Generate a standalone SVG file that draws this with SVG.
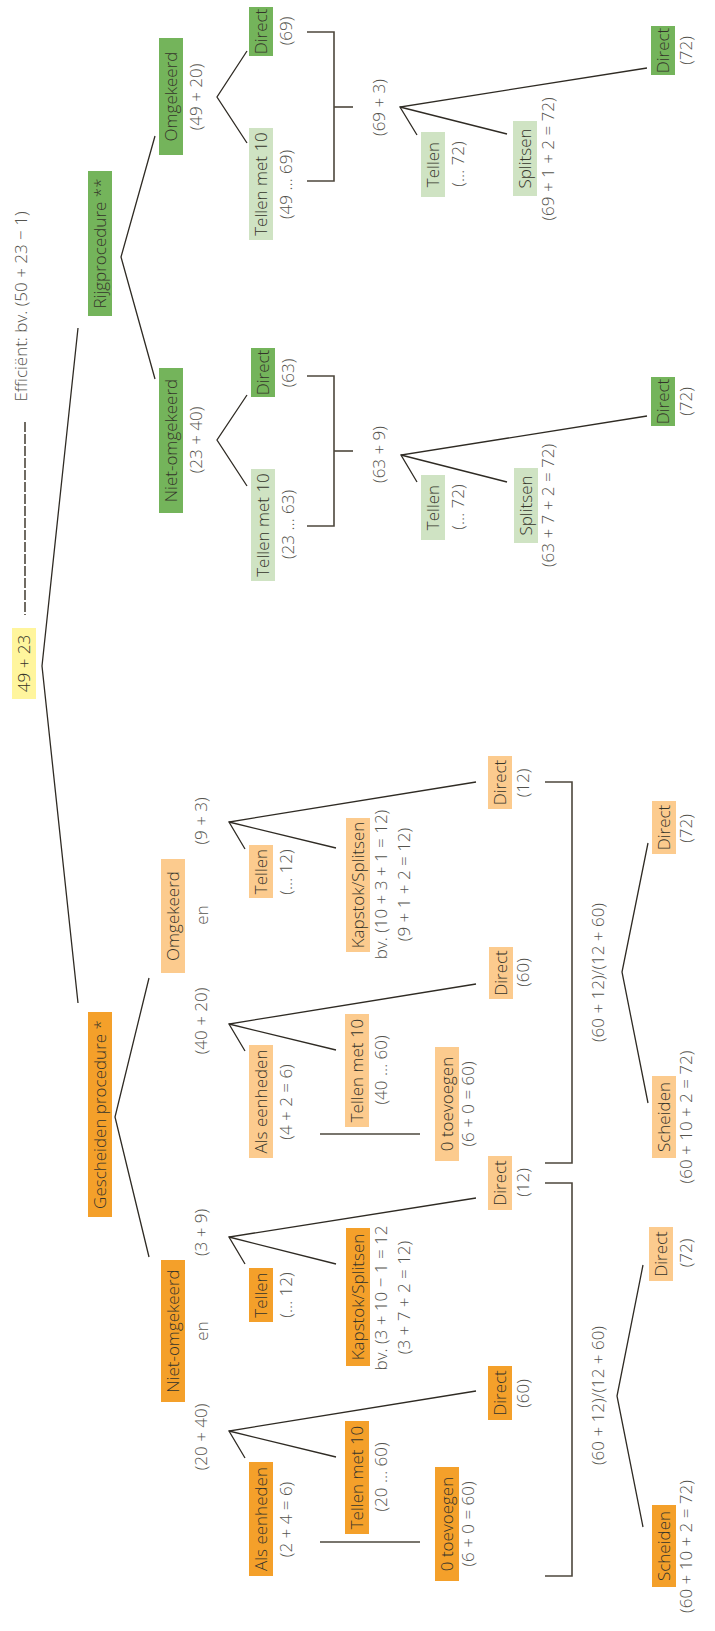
<svg xmlns="http://www.w3.org/2000/svg" width="715" height="1631" viewBox="0 0 715 1631">
<style>
text{font-family:"Open Sans","Noto Sans","Liberation Sans",sans-serif;font-size:17px;font-weight:300;text-anchor:middle}
.t{fill:#34342a}
.l{fill:#55544e}
.dg{fill:#74b45b}
.lg{fill:#cfe3c3}
.do{fill:#f4a02a}
.lo{fill:#fccb8e}
.ye{fill:#fff59d}
.c{fill:none;stroke:#2f2b24;stroke-width:1.3}
.b{fill:none;stroke:#4d473c;stroke-width:1.6}
</style>
<rect width="715" height="1631" fill="#fff"/>
<g id="connectors">
<line class="b" x1="25" y1="422" x2="25" y2="615" stroke-dasharray="10 2"/>
<polyline class="c" points="78,328 42,666 78,1003"/>
<polyline class="c" points="155,136 121,257 155,379"/>
<polyline class="c" points="247,51 217,97 247,143"/>
<polyline class="c" points="247,395 217,440 247,486"/>
<polyline class="b" points="307,32 334,32 334,181 307,181"/>
<line class="b" x1="334" y1="107" x2="353" y2="107"/>
<polyline class="b" points="307,376 334,376 334,526 307,526"/>
<line class="b" x1="334" y1="451" x2="353" y2="451"/>
<polyline class="c" points="647,68 400,107 417,135"/>
<line class="c" x1="400" y1="107" x2="507" y2="134"/>
<polyline class="c" points="647,416 401,455 417,482"/>
<line class="c" x1="401" y1="455" x2="507" y2="482"/>
<polyline class="c" points="149,978 115,1117 149,1257"/>
<polyline class="c" points="476,782 229,822 245,849"/>
<line class="c" x1="229" y1="822" x2="336" y2="848"/>
<polyline class="c" points="476,984 229,1024 245,1051"/>
<line class="c" x1="229" y1="1024" x2="336" y2="1050"/>
<polyline class="c" points="476,1198 229,1237 245,1264"/>
<line class="c" x1="229" y1="1237" x2="336" y2="1264"/>
<polyline class="c" points="476,1391 229,1431 245,1458"/>
<line class="c" x1="229" y1="1431" x2="336" y2="1457"/>
<line class="b" x1="320" y1="1134" x2="420" y2="1134"/>
<line class="b" x1="320" y1="1542" x2="420" y2="1542"/>
<polyline class="b" points="545,782 572,782 572,1163 545,1163"/>
<polyline class="b" points="545,1183 572,1183 572,1576 545,1576"/>
<polyline class="c" points="648,843 622,972 648,1103"/>
<polyline class="c" points="643,1265 617,1396 643,1527"/>
</g>
<g id="n-root"><rect class="ye" x="12" y="628" width="24" height="71"/><text class="t" x="30" y="663.5" transform="rotate(-90 30 663.5)">49 + 23</text></g>
<g id="n-efficient"><text class="l" x="27" y="306.5" transform="rotate(-90 27 306.5)">Efficiënt: bv. (50 + 23 − 1)</text></g>
<g id="n-rijg"><rect class="dg" x="88" y="171" width="24" height="145"/><text class="t" x="106" y="243.5" transform="rotate(-90 106 243.5)">Rijgprocedure **</text></g>
<g id="n-g-omg"><rect class="dg" x="159" y="38" width="24" height="117"/><text class="t" x="177" y="96.5" transform="rotate(-90 177 96.5)">Omgekeerd</text><text class="l" x="202" y="97" transform="rotate(-90 202 97)">(49 + 20)</text></g>
<g id="n-g-niet"><rect class="dg" x="159" y="368" width="24" height="145"/><text class="t" x="177" y="440.5" transform="rotate(-90 177 440.5)">Niet-omgekeerd</text><text class="l" x="202" y="440" transform="rotate(-90 202 440)">(23 + 40)</text></g>
<g id="n-g-direct69"><rect class="dg" x="249" y="7" width="24" height="49"/><text class="t" x="267" y="31.5" transform="rotate(-90 267 31.5)">Direct</text><text class="l" x="292" y="31" transform="rotate(-90 292 31)">(69)</text></g>
<g id="n-g-tellen49"><rect class="lg" x="249" y="128" width="24" height="112"/><text class="t" x="267" y="184" transform="rotate(-90 267 184)">Tellen met 10</text><text class="l" x="292" y="184.5" transform="rotate(-90 292 184.5)">(49 … 69)</text></g>
<g id="n-g-direct63"><rect class="dg" x="251" y="348" width="24" height="49"/><text class="t" x="269" y="372.5" transform="rotate(-90 269 372.5)">Direct</text><text class="l" x="294" y="373" transform="rotate(-90 294 373)">(63)</text></g>
<g id="n-g-tellen23"><rect class="lg" x="251" y="469" width="24" height="112"/><text class="t" x="269" y="525" transform="rotate(-90 269 525)">Tellen met 10</text><text class="l" x="294" y="524.5" transform="rotate(-90 294 524.5)">(23 … 63)</text></g>
<g id="n-g-sum1"><text class="l" x="385" y="107.5" transform="rotate(-90 385 107.5)">(69 + 3)</text></g>
<g id="n-g-tellen72a"><rect class="lg" x="421" y="132" width="24" height="65"/><text class="t" x="439" y="164.5" transform="rotate(-90 439 164.5)">Tellen</text><text class="l" x="464" y="164" transform="rotate(-90 464 164)">(… 72)</text></g>
<g id="n-g-splitsen-a"><rect class="lg" x="513" y="121" width="24" height="75"/><text class="t" x="531" y="158.5" transform="rotate(-90 531 158.5)">Splitsen</text><text class="l" x="554" y="159" transform="rotate(-90 554 159)">(69 + 1 + 2 = 72)</text></g>
<g id="n-g-direct72a"><rect class="dg" x="651" y="26" width="24" height="49"/><text class="t" x="669" y="50.5" transform="rotate(-90 669 50.5)">Direct</text><text class="l" x="692" y="50.5" transform="rotate(-90 692 50.5)">(72)</text></g>
<g id="n-g-sum2"><text class="l" x="385" y="454.5" transform="rotate(-90 385 454.5)">(63 + 9)</text></g>
<g id="n-g-tellen72b"><rect class="lg" x="421" y="475" width="24" height="65"/><text class="t" x="439" y="507.5" transform="rotate(-90 439 507.5)">Tellen</text><text class="l" x="464" y="507" transform="rotate(-90 464 507)">(… 72)</text></g>
<g id="n-g-splitsen-b"><rect class="lg" x="514" y="468" width="24" height="75"/><text class="t" x="532" y="505.5" transform="rotate(-90 532 505.5)">Splitsen</text><text class="l" x="554" y="505.5" transform="rotate(-90 554 505.5)">(63 + 7 + 2 = 72)</text></g>
<g id="n-g-direct72b"><rect class="dg" x="651" y="377" width="24" height="49"/><text class="t" x="669" y="401.5" transform="rotate(-90 669 401.5)">Direct</text><text class="l" x="692" y="401.5" transform="rotate(-90 692 401.5)">(72)</text></g>
<g id="n-gesch"><rect class="do" x="88" y="1012" width="24" height="205"/><text class="t" x="106" y="1114.5" transform="rotate(-90 106 1114.5)">Gescheiden procedure *</text></g>
<g id="n-o-omg"><rect class="lo" x="161" y="859" width="24" height="114"/><text class="t" x="179" y="916" transform="rotate(-90 179 916)">Omgekeerd</text><text class="l" x="207" y="821" transform="rotate(-90 207 821)">(9 + 3)</text><text class="l" x="208" y="915" transform="rotate(-90 208 915)">en</text><text class="l" x="207" y="1021" transform="rotate(-90 207 1021)">(40 + 20)</text></g>
<g id="n-o-niet"><rect class="do" x="161" y="1260" width="24" height="142"/><text class="t" x="179" y="1331" transform="rotate(-90 179 1331)">Niet-omgekeerd</text><text class="l" x="207" y="1232.5" transform="rotate(-90 207 1232.5)">(3 + 9)</text><text class="l" x="208" y="1331" transform="rotate(-90 208 1331)">en</text><text class="l" x="207" y="1437" transform="rotate(-90 207 1437)">(20 + 40)</text></g>
<g id="n-o-tellen-a"><rect class="lo" x="249" y="845" width="24" height="53"/><text class="t" x="267" y="871.5" transform="rotate(-90 267 871.5)">Tellen</text><text class="l" x="292" y="872" transform="rotate(-90 292 872)">(… 12)</text></g>
<g id="n-o-als-a"><rect class="lo" x="249" y="1045" width="24" height="113"/><text class="t" x="267" y="1101.5" transform="rotate(-90 267 1101.5)">Als eenheden</text><text class="l" x="292" y="1102" transform="rotate(-90 292 1102)">(4 + 2 = 6)</text></g>
<g id="n-o-kap-a"><rect class="lo" x="346" y="818" width="24" height="134"/><text class="t" x="364" y="885" transform="rotate(-90 364 885)">Kapstok/Splitsen</text><text class="l" x="387" y="884.5" transform="rotate(-90 387 884.5)">bv. (10 + 3 + 1 = 12)</text><text class="l" x="410" y="884.5" transform="rotate(-90 410 884.5)">(9 + 1 + 2 = 12)</text></g>
<g id="n-o-t10-a"><rect class="lo" x="345" y="1014" width="24" height="113"/><text class="t" x="363" y="1070.5" transform="rotate(-90 363 1070.5)">Tellen met 10</text><text class="l" x="387" y="1070" transform="rotate(-90 387 1070)">(40 … 60)</text></g>
<g id="n-o-0t-a"><rect class="lo" x="435" y="1047" width="24" height="114"/><text class="t" x="453" y="1104" transform="rotate(-90 453 1104)">0 toevoegen</text><text class="l" x="474" y="1104" transform="rotate(-90 474 1104)">(6 + 0 = 60)</text></g>
<g id="n-o-d12-a"><rect class="lo" x="488" y="756" width="24" height="53"/><text class="t" x="506" y="782.5" transform="rotate(-90 506 782.5)">Direct</text><text class="l" x="529" y="783" transform="rotate(-90 529 783)">(12)</text></g>
<g id="n-o-d60-a"><rect class="lo" x="489" y="947" width="24" height="52"/><text class="t" x="507" y="973" transform="rotate(-90 507 973)">Direct</text><text class="l" x="529" y="972.5" transform="rotate(-90 529 972.5)">(60)</text></g>
<g id="n-o-comb-a"><text class="l" x="604" y="972.5" transform="rotate(-90 604 972.5)">(60 + 12)/(12 + 60)</text></g>
<g id="n-o-d72-a"><rect class="lo" x="652" y="801" width="24" height="53"/><text class="t" x="670" y="827.5" transform="rotate(-90 670 827.5)">Direct</text><text class="l" x="692" y="828.5" transform="rotate(-90 692 828.5)">(72)</text></g>
<g id="n-o-sch-a"><rect class="lo" x="652" y="1076" width="24" height="82"/><text class="t" x="670" y="1117" transform="rotate(-90 670 1117)">Scheiden</text><text class="l" x="692" y="1117" transform="rotate(-90 692 1117)">(60 + 10 + 2 = 72)</text></g>
<g id="n-o-tellen-b"><rect class="do" x="249" y="1268" width="24" height="54"/><text class="t" x="267" y="1295" transform="rotate(-90 267 1295)">Tellen</text><text class="l" x="292" y="1295" transform="rotate(-90 292 1295)">(… 12)</text></g>
<g id="n-o-als-b"><rect class="do" x="249" y="1462" width="24" height="114"/><text class="t" x="267" y="1519" transform="rotate(-90 267 1519)">Als eenheden</text><text class="l" x="292" y="1519.5" transform="rotate(-90 292 1519.5)">(2 + 4 = 6)</text></g>
<g id="n-o-kap-b"><rect class="do" x="346" y="1228" width="24" height="138"/><text class="t" x="364" y="1297" transform="rotate(-90 364 1297)">Kapstok/Splitsen</text><text class="l" x="387" y="1298" transform="rotate(-90 387 1298)">bv. (3 + 10 − 1 = 12</text><text class="l" x="410" y="1297.5" transform="rotate(-90 410 1297.5)">(3 + 7 + 2 = 12)</text></g>
<g id="n-o-t10-b"><rect class="do" x="345" y="1421" width="24" height="113"/><text class="t" x="363" y="1477.5" transform="rotate(-90 363 1477.5)">Tellen met 10</text><text class="l" x="387" y="1477" transform="rotate(-90 387 1477)">(20 … 60)</text></g>
<g id="n-o-0t-b"><rect class="do" x="435" y="1467" width="24" height="114"/><text class="t" x="453" y="1524" transform="rotate(-90 453 1524)">0 toevoegen</text><text class="l" x="474" y="1524" transform="rotate(-90 474 1524)">(6 + 0 = 60)</text></g>
<g id="n-o-d12-b"><rect class="lo" x="488" y="1156" width="24" height="54"/><text class="t" x="506" y="1183" transform="rotate(-90 506 1183)">Direct</text><text class="l" x="529" y="1182.5" transform="rotate(-90 529 1182.5)">(12)</text></g>
<g id="n-o-d60-b"><rect class="do" x="488" y="1366" width="24" height="54"/><text class="t" x="506" y="1393" transform="rotate(-90 506 1393)">Direct</text><text class="l" x="529" y="1393.5" transform="rotate(-90 529 1393.5)">(60)</text></g>
<g id="n-o-comb-b"><text class="l" x="604" y="1395.5" transform="rotate(-90 604 1395.5)">(60 + 12)/(12 + 60)</text></g>
<g id="n-o-d72-b"><rect class="lo" x="649" y="1227" width="24" height="54"/><text class="t" x="667" y="1254" transform="rotate(-90 667 1254)">Direct</text><text class="l" x="692" y="1253" transform="rotate(-90 692 1253)">(72)</text></g>
<g id="n-o-sch-b"><rect class="do" x="652" y="1505" width="24" height="82"/><text class="t" x="670" y="1546" transform="rotate(-90 670 1546)">Scheiden</text><text class="l" x="692" y="1546.5" transform="rotate(-90 692 1546.5)">(60 + 10 + 2 = 72)</text></g>
</svg>
